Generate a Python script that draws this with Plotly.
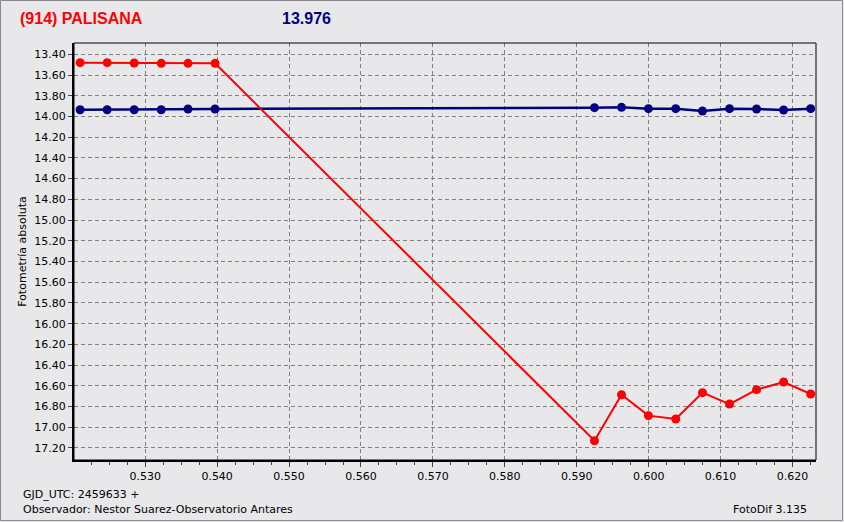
import plotly.graph_objects as go

# Red series (asteroid)
red_x = [0.52095, 0.52471, 0.52847, 0.53223, 0.53595, 0.53971,
         0.59246, 0.59622, 0.59996, 0.60376, 0.60748, 0.61124, 0.61500, 0.61876, 0.62252]
red_y = [13.481, 13.481, 13.484, 13.487, 13.487, 13.487,
         17.130, 16.686, 16.888, 16.920, 16.666, 16.776, 16.637, 16.563, 16.679]

# Blue series (reference star)
blue_x = red_x
blue_y = [13.935, 13.935, 13.935, 13.935, 13.928, 13.928,
          13.915, 13.912, 13.925, 13.925, 13.947, 13.925, 13.928, 13.938, 13.925]

x_ticks = [0.530, 0.540, 0.550, 0.560, 0.570, 0.580, 0.590, 0.600, 0.610, 0.620]
y_ticks = [13.40, 13.60, 13.80, 14.00, 14.20, 14.40, 14.60, 14.80, 15.00, 15.20,
           15.40, 15.60, 15.80, 16.00, 16.20, 16.40, 16.60, 16.80, 17.00, 17.20]

bg = "#e8e8ea"
W, H = 844, 522
L, R, T, B = 74, 28, 43, 62
pw, ph = W - L - R, H - T - B

fig = go.Figure()
fig.add_trace(go.Scatter(x=blue_x, y=blue_y, mode="lines+markers",
                         line=dict(color="#000080", width=2.5),
                         marker=dict(color="#000080", size=9), showlegend=False))
fig.add_trace(go.Scatter(x=red_x, y=red_y, mode="lines+markers",
                         line=dict(color="#ff0000", width=2),
                         marker=dict(color="#ff0000", size=9), showlegend=False))

fig.update_xaxes(range=[0.5201, 0.62326], tickvals=x_ticks,
                 ticktext=[f"{v:.3f}" for v in x_ticks],
                 showgrid=True, gridcolor="#808080", griddash="4px,3px", gridwidth=1,
                 showline=True, linecolor="black", linewidth=2,
                 ticks="outside", ticklen=5, tickcolor="#444",
                 minor=dict(dtick=0.0025, tick0=0.5, ticks="outside", ticklen=3, tickcolor="#444", showgrid=False),
                 tickfont=dict(family="DejaVu Sans", size=11, color="black"),
                 zeroline=False)
fig.update_yaxes(range=[17.316, 13.291], tickvals=y_ticks,
                 ticktext=[f"{v:.2f}" for v in y_ticks],
                 showgrid=True, gridcolor="#808080", griddash="4px,3px", gridwidth=1,
                 showline=True, linecolor="black", linewidth=2,
                 ticks="outside", ticklen=4, tickcolor="#444",
                 tickfont=dict(family="DejaVu Sans", size=11, color="black"),
                 title=dict(text="Fotometría absoluta", font=dict(family="DejaVu Sans", size=11, color="black"), standoff=5),
                 zeroline=False)

def px(xp):
    return (xp - L) / pw

def py(yp):
    return 1 - (yp - T) / ph

shapes = [
    dict(type="rect", xref="paper", yref="paper", x0=0, x1=1, y0=0, y1=1,
         line=dict(color="black", width=1), fillcolor="rgba(0,0,0,0)", layer="above"),
    dict(type="rect", xref="paper", yref="paper", x0=px(0.5), x1=px(W - 1.5), y0=py(H - 1.5), y1=py(0.5),
         line=dict(color="#8a8a8a", width=1), fillcolor="rgba(0,0,0,0)"),
]

annotations = [
    dict(text="<b>(914) PALISANA</b>", xref="paper", yref="paper", x=px(18), y=py(19),
         xanchor="left", yanchor="middle", showarrow=False,
         font=dict(family="Liberation Sans", size=16, color="#ff0000")),
    dict(text="<b>13.976</b>", xref="paper", yref="paper", x=px(280), y=py(19),
         xanchor="left", yanchor="middle", showarrow=False,
         font=dict(family="Liberation Sans", size=16, color="#000080")),
    dict(text="GJD_UTC: 2459633 +", xref="paper", yref="paper", x=px(21), y=py(494),
         xanchor="left", yanchor="middle", showarrow=False,
         font=dict(family="DejaVu Sans", size=11, color="black")),
    dict(text="Observador: Nestor Suarez-Observatorio Antares", xref="paper", yref="paper", x=px(21), y=py(510),
         xanchor="left", yanchor="middle", showarrow=False,
         font=dict(family="DejaVu Sans", size=11, color="black")),
    dict(text="FotoDif 3.135", xref="paper", yref="paper", x=px(809), y=py(510),
         xanchor="right", yanchor="middle", showarrow=False,
         font=dict(family="DejaVu Sans", size=11, color="black")),
]

fig.update_layout(width=W, height=H, margin=dict(l=L, r=R, t=T, b=B),
                  paper_bgcolor=bg, plot_bgcolor=bg,
                  shapes=shapes, annotations=annotations, showlegend=False)

fig.write_html("out.html", config={"displayModeBar": False},
               post_script="document.body.style.margin='0px';document.body.style.padding='0px';document.body.style.overflow='hidden';")
